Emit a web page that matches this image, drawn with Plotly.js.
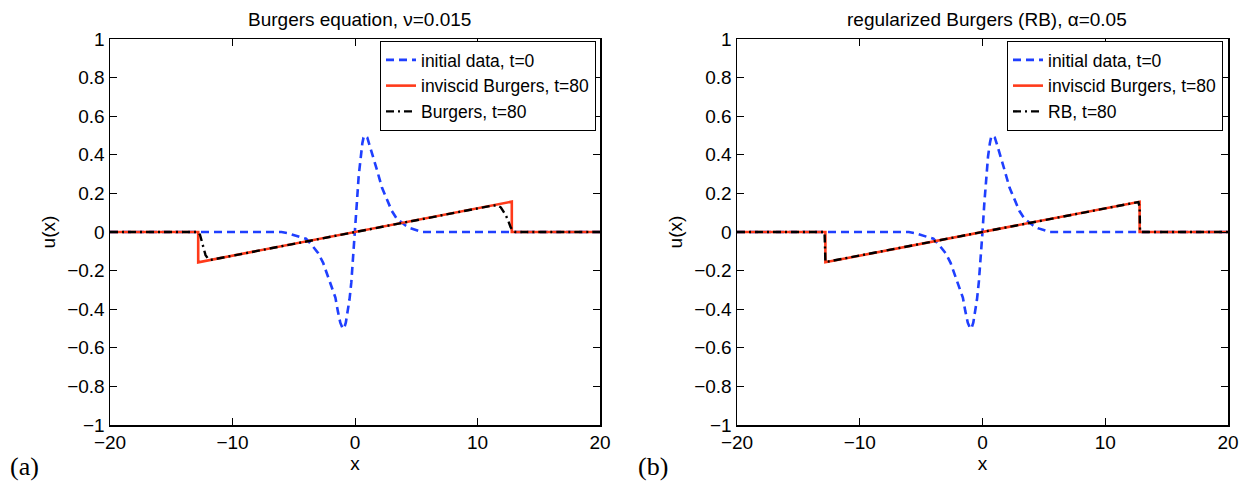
<!DOCTYPE html>
<html>
<head>
<meta charset="utf-8">
<script src="https://cdn.plot.ly/plotly-3.0.1.min.js"></script>
<style>
  html, body { margin: 0; padding: 0; background: #fff; }
  #plot { width: 1249px; height: 485px; }
</style>
</head>
<body>
<div id="plot"></div>
<script>
// Initial data u(x, 0): a single negative / positive pulse pair around x = 0
const initX = [-20, -6.0, -5.5, -5.0, -4.5, -4.0, -3.5, -3.0, -2.6, -2.2, -1.9, -1.6, -1.4, -1.2, -1.0, -0.9,
               -0.75, -0.6, -0.45, -0.3, -0.15, 0, 0.15, 0.3, 0.45, 0.6, 0.7, 0.82, 1.0, 1.2, 1.4, 1.8,
               2.2, 2.7, 3.0, 3.4, 4.1, 4.5, 5.0, 5.5, 20];
const initU = [0, 0, -0.006, -0.015, -0.022, -0.035, -0.07, -0.11, -0.16, -0.23, -0.28, -0.34, -0.41, -0.47, -0.5, -0.5,
               -0.47, -0.42, -0.35, -0.26, -0.14, 0, 0.15, 0.29, 0.39, 0.46, 0.49, 0.5, 0.49, 0.45, 0.41, 0.32,
               0.23, 0.15, 0.11, 0.07, 0.035, 0.02, 0.008, 0, 0];

// Inviscid Burgers at t = 80: N-wave with two shocks
const invX = [-20, -12.8, -12.8, 12.8, 12.8, 20];
const invU = [0, 0, -0.157, 0.157, 0, 0];

// Viscous Burgers at t = 80 (nu = 0.015): smoothed shocks
const burX = [-20, -12.8, -12.65, -12.4, -12.2, -12.0, -11.8, 11.2, 11.6, 11.9, 12.1, 12.3, 12.5, 12.7, 12.9, 13.1, 20];
const burU = [0, 0, -0.015, -0.08, -0.12, -0.138, -0.145, 0.137, 0.138, 0.128, 0.11, 0.088, 0.06, 0.025, 0.005, 0, 0];

// Regularized Burgers at t = 80 (alpha = 0.05): nearly sharp shocks
const rbX = [-20, -12.87, -12.83, -12.8, 12.7, 12.8, 12.83, 12.87, 20];
const rbU = [0, 0, -0.08, -0.156, 0.155, 0.13, 0.02, 0, 0];

// Tick positions and labels
const xTicks = [-20, -10, 0, 10, 20];
const xTickText = ['\u221220', '\u221210', '0', '10', '20'];
const yTicks = [-1, -0.8, -0.6, -0.4, -0.2, 0, 0.2, 0.4, 0.6, 0.8, 1];
const yTickText = ['\u22121', '\u22120.8', '\u22120.6', '\u22120.4', '\u22120.2', '0', '0.2', '0.4', '0.6', '0.8', '1'];

const titles = ['Burgers equation, \u03bd=0.015', 'regularized Burgers (RB), \u03b1=0.05'];
const panelTags = ['(a)', '(b)'];
const legendNames = [
  ['initial data, t=0', 'inviscid Burgers, t=80', 'Burgers, t=80'],
  ['initial data, t=0', 'inviscid Burgers, t=80', 'RB, t=80']
];

const FONT = 'Liberation Sans, Arial, Helvetica, sans-serif';
const FS = 19;
const LFS = 17.5;
const BLUE = '#1f3fff';
const RED = '#ff3a1a';

const W = 1249, H = 485;
const xDom = [[110 / W, 600 / W], [737 / W, 1228 / W]];
const yDom = [1 - 425 / H, 1 - 39 / H];

function lineTrace(x, y, name, color, dash, width, axis, legend) {
  return {
    x: x, y: y, name: name, type: 'scatter', mode: 'lines',
    line: { color: color, dash: dash, width: width },
    xaxis: 'x' + axis, yaxis: 'y' + axis, legend: legend
  };
}

const traces = [
  lineTrace(initX, initU, legendNames[0][0], BLUE, '8px,5px', 2.6, '', 'legend'),
  lineTrace(invX, invU, legendNames[0][1], RED, 'solid', 2.6, '', 'legend'),
  lineTrace(burX, burU, legendNames[0][2], '#000', '8px,4px,2px,4px', 2.4, '', 'legend'),
  lineTrace(initX, initU, legendNames[1][0], BLUE, '8px,5px', 2.6, '2', 'legend2'),
  lineTrace(invX, invU, legendNames[1][1], RED, 'solid', 2.6, '2', 'legend2'),
  lineTrace(rbX, rbU, legendNames[1][2], '#000', '8px,4px,2px,4px', 2.4, '2', 'legend2')
];

function xAxis(dom, anchor) {
  return {
    domain: dom, anchor: anchor, range: [-20, 20],
    tickvals: xTicks, ticktext: xTickText,
    ticks: 'inside', ticklen: 7, tickwidth: 1, tickcolor: '#000',
    showline: true, linecolor: '#000', linewidth: 1.5, mirror: 'ticks',
    showgrid: false, zeroline: false,
    tickfont: { family: FONT, size: FS, color: '#000' },
    title: { text: 'x', font: { family: FONT, size: FS, color: '#000' }, standoff: 2 }
  };
}
function yAxis(anchor) {
  return {
    domain: yDom, anchor: anchor, range: [-1, 1],
    tickvals: yTicks, ticktext: yTickText,
    ticks: 'inside', ticklen: 7, tickwidth: 1, tickcolor: '#000',
    showline: true, linecolor: '#000', linewidth: 1.5, mirror: 'ticks',
    showgrid: false, zeroline: false,
    tickfont: { family: FONT, size: FS, color: '#000' },
    title: { text: 'u(x)', font: { family: FONT, size: FS, color: '#000' }, standoff: 6 }
  };
}
function legendBox(xRight) {
  return {
    x: xRight, xanchor: 'right', y: 1 - 41 / H, yanchor: 'top',
    bgcolor: '#fff', bordercolor: '#000', borderwidth: 1,
    font: { family: FONT, size: LFS, color: '#000' },
    tracegroupgap: 0, itemwidth: 30
  };
}

const annotations = [];
for (let i = 0; i < 2; i++) {
  annotations.push({
    text: titles[i], xref: 'paper', yref: 'paper',
    x: (xDom[i][0] + xDom[i][1]) / 2 + 4 / W, y: 1 - 20 / H, xanchor: 'center', yanchor: 'middle',
    showarrow: false, font: { family: FONT, size: FS, color: '#000' }
  });
  annotations.push({
    text: panelTags[i], xref: 'paper', yref: 'paper',
    x: [8 / W, 636 / W][i], y: 1 - 466 / H, xanchor: 'left', yanchor: 'middle',
    showarrow: false, font: { family: 'Liberation Serif, Times New Roman, serif', size: 26, color: '#000' }
  });
}

const layout = {
  width: W, height: H,
  margin: { l: 0, r: 0, t: 0, b: 0 },
  paper_bgcolor: '#fff', plot_bgcolor: '#fff',
  showlegend: true,
  xaxis: xAxis(xDom[0], 'y'),
  yaxis: yAxis('x'),
  xaxis2: xAxis(xDom[1], 'y2'),
  yaxis2: yAxis('x2'),
  legend: legendBox(596 / W),
  legend2: legendBox(1223 / W),
  annotations: annotations
};

Plotly.newPlot('plot', traces, layout, { displayModeBar: false, staticPlot: true });
</script>
</body>
</html>
